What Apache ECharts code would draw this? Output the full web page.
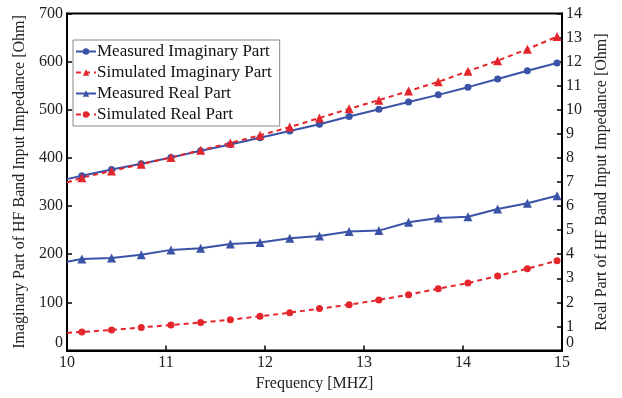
<!DOCTYPE html>
<html>
<head>
<meta charset="utf-8">
<script src="https://cdn.jsdelivr.net/npm/echarts@6/dist/echarts.min.js"></script>
<style>
  html, body { margin: 0; padding: 0; background: #fff; }
  #chart { width: 622px; height: 398px; }
</style>
</head>
<body>
<div id="chart"></div>
<script>
// frequency points (MHz); first one only starts the line, no marker
let freqs = [10, 10.15, 10.45, 10.75, 11.05, 11.35, 11.65, 11.95, 12.25, 12.55, 12.85, 13.15, 13.45, 13.75, 14.05, 14.35, 14.65, 14.95];
let measImag = [356, 363, 376, 388, 401, 415, 428, 442, 456, 470, 486, 501, 516, 531, 547, 564, 581, 597];
let simImag  = [349, 359, 373, 387, 401, 416, 431, 447, 464, 483, 502, 520, 539, 558, 580, 602, 626, 652];
let measReal = [3.69, 3.80, 3.84, 3.98, 4.18, 4.25, 4.42, 4.49, 4.66, 4.76, 4.94, 4.98, 5.33, 5.50, 5.56, 5.88, 6.12, 6.43];
let simReal  = [0.73, 0.77, 0.85, 0.96, 1.06, 1.16, 1.28, 1.42, 1.57, 1.74, 1.90, 2.10, 2.32, 2.57, 2.80, 3.10, 3.40, 3.73];

let names = ['Measured Imaginary Part', 'Simulated Imaginary Part', 'Measured Real Part', 'Simulated Real Part'];

const blue = '#3a53a6';
const red = '#e4262c';
const font = '"Liberation Serif", "Times New Roman", serif';

function pts(vals) {
    return vals.map(function (v, i) {
        let p = { value: [freqs[i], v] };
        if (i === 0) p.symbol = 'none';
        return p;
    });
}

function mkSeries(name, vals, color, symbol, size, dashed, yIndex) {
    return {
        name: name,
        type: 'line',
        yAxisIndex: yIndex,
        data: pts(vals),
        symbol: symbol,
        symbolSize: size,
        showAllSymbol: true,
        lineStyle: { color: color, width: 2, type: dashed ? [5, 4] : 'solid' },
        itemStyle: { color: color },
        emphasis: { disabled: true },
        animation: false
    };
}

let chart = echarts.init(document.getElementById('chart'));
const axisText = { fontFamily: font, fontSize: 16, color: '#222' };

const option = {
    backgroundColor: '#fff',
    textStyle: { fontFamily: font },
    grid: {
        left: 67, right: 60, top: 13.5, bottom: 47.5,
        show: true, borderColor: '#000', borderWidth: 2, backgroundColor: '#fff'
    },
    legend: {
        orient: 'vertical',
        left: 73, top: 40,
        data: names,
        backgroundColor: '#fff',
        borderColor: '#888',
        borderWidth: 1,
        padding: [3, 8, 3, 2],
        itemGap: 4,
        itemWidth: 20,
        itemHeight: 8,
        textStyle: { fontFamily: font, fontSize: 17, color: '#111', padding: [0, 0, 0, -4] }
    },
    xAxis: {
        type: 'value',
        min: 10, max: 15, interval: 1,
        name: 'Frequency [MHZ]',
        nameLocation: 'middle',
        nameGap: 25,
        nameTextStyle: axisText,
        axisLine: { lineStyle: { color: '#000', width: 2 } },
        axisTick: { inside: true, length: 5, lineStyle: { color: '#000', width: 1.5 } },
        axisLabel: Object.assign({ margin: 4 }, axisText),
        splitLine: { show: false }
    },
    yAxis: [
        {
            type: 'value',
            min: 0, max: 700, interval: 100,
            name: 'Imaginary Part of HF Band Input Impedance [Ohm]',
            nameLocation: 'middle',
            nameGap: 34,
            nameTextStyle: axisText,
            axisLine: { show: true, lineStyle: { color: '#000', width: 2 } },
            axisTick: { inside: true, length: 5, lineStyle: { color: '#000', width: 1.5 } },
            axisLabel: Object.assign({ margin: 4, verticalAlignMinLabel: 'bottom' }, axisText),
            splitLine: { show: false }
        },
        {
            type: 'value',
            position: 'right',
            min: 0, max: 14, interval: 1,
            name: 'Real Part of HF Band Input Impedance [Ohm]',
            nameLocation: 'middle',
            nameGap: 32,
            nameRotate: 90,
            nameTextStyle: axisText,
            axisLine: { show: true, lineStyle: { color: '#000', width: 2 } },
            axisTick: { inside: true, length: 5, lineStyle: { color: '#000', width: 1.5 } },
            axisLabel: Object.assign({ margin: 4, verticalAlignMinLabel: 'bottom' }, axisText),
            splitLine: { show: false }
        }
    ],
    series: [
        mkSeries(names[0], measImag, blue, 'circle', 7, false, 0),
        mkSeries(names[1], simImag, red, 'triangle', 9, true, 0),
        mkSeries(names[2], measReal, blue, 'triangle', 9, false, 1),
        mkSeries(names[3], simReal, red, 'circle', 7, true, 1)
    ]
};
chart.setOption(option);
window.addEventListener('resize', function () {
    chart.resize();
});
</script>
</body>
</html>
